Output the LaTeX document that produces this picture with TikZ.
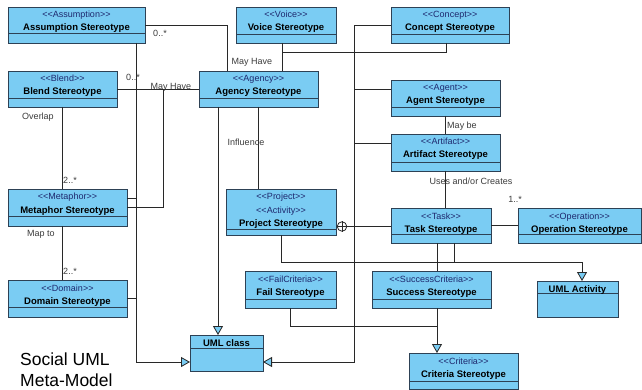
\documentclass[tikz,border=0pt]{standalone}
\usepackage{fontspec}
\setmainfont{Liberation Sans}
\usetikzlibrary{arrows.meta,calc}
\definecolor{umlblue}{RGB}{122,204,243}
\definecolor{boxedge}{RGB}{45,65,85}
\definecolor{conn}{RGB}{40,40,40}
\definecolor{stercol}{RGB}{30,40,110}
\definecolor{lblcol}{RGB}{60,60,60}
\newcommand{\lgl}{<\kern0pt<}
\newcommand{\rgr}{>\kern0pt>}
\tikzset{
  umlbox/.style={draw=boxedge, fill=umlblue, line width=0.9pt, rectangle, inner sep=0pt, outer sep=0pt, anchor=north west},
  divline/.style={draw=boxedge, line width=0.9pt},
  ster/.style={font=\fontsize{9}{10}\selectfont, text=stercol, anchor=base, inner sep=0pt},
  ctitle/.style={font=\fontsize{9.5}{11}\selectfont\bfseries, text=black, anchor=base, inner sep=0pt},
  conline/.style={draw=conn, line width=0.8pt},
  gen/.style={conline, -{Triangle[length=9pt,width=10pt,fill=umlblue]}},
  lbl/.style={font=\fontsize{9}{10}\selectfont, text=lblcol, anchor=base, inner sep=0pt},
  bigtitle/.style={font=\fontsize{17.5}{20}\selectfont, text=black, anchor=base west, inner sep=0pt},
}
\newcommand{\ubox}[8]{%
  \node[umlbox, minimum width=#4pt, minimum height=#5pt] (#1) at (#2,#3) {};
  \draw[divline] ([yshift=#6pt]#1.south west) -- ([yshift=#6pt]#1.south east);
  \node[ster] (#1s) at ([yshift=-11pt]#1.north) {#7};
  \node[ctitle] (#1t) at ([yshift=-24pt]#1.north) {#8};
}
\newcommand{\uboxone}[7]{%
  \node[umlbox, minimum width=#4pt, minimum height=#5pt] (#1) at (#2,#3) {};
  \draw[divline] ([yshift=#6pt]#1.south west) -- ([yshift=#6pt]#1.south east);
  \node[ctitle] (#1t) at ([yshift=-11pt]#1.north) {#7};
}
\begin{document}
\begin{tikzpicture}[x=1pt,y=-1pt]
\useasboundingbox (0,0) rectangle (642,390);
\fill[white] (0,0) rectangle (642,390);

\coordinate (b1) at (136,362);
\coordinate (b2) at (354,362);
\coordinate (j1) at (282,52);
\coordinate (j2) at (163,89);
\coordinate (j3) at (582,262);
\coordinate (k) at (437,326);

% boxes
\ubox{assum}{8}{7}{137}{36}{10}{\lgl Assumption\rgr}{Assumption Stereotype}
\ubox{blend}{8}{71}{109}{36}{9}{\lgl Blend\rgr}{Blend Stereotype}
\ubox{voice}{236}{7}{100}{36}{9}{\lgl Voice\rgr}{Voice Stereotype}
\ubox{agency}{199}{71}{119}{36}{9}{\lgl Agency\rgr}{Agency Stereotype}
\ubox{concept}{391}{7}{118}{36}{9}{\lgl Concept\rgr}{Concept Stereotype}
\ubox{agent}{391}{80}{109}{36}{9}{\lgl Agent\rgr}{Agent Stereotype}
\ubox{artifact}{391}{134}{109}{37}{9}{\lgl Artifact\rgr}{Artifact Stereotype}
\ubox{task}{391}{208}{100}{35}{9}{\lgl Task\rgr}{Task Stereotype}
\ubox{operation}{518}{208}{123}{35}{9}{\lgl Operation\rgr}{Operation Stereotype}
\ubox{metaphor}{8}{189}{119}{37}{10}{\lgl Metaphor\rgr}{Metaphor Stereotype}
\ubox{domain}{8}{280}{119}{37}{10}{\lgl Domain\rgr}{Domain Stereotype}
\ubox{fail}{245}{271}{91}{37}{9}{\lgl FailCriteria\rgr}{Fail Stereotype}
\ubox{success}{372}{271}{119}{37}{9}{\lgl SuccessCriteria\rgr}{Success Stereotype}
\ubox{criteria}{409}{353}{109}{36}{8}{\lgl Criteria\rgr}{Criteria Stereotype}
\uboxone{umlclass}{190}{335}{73}{36}{23}{UML class}
\uboxone{umlactivity}{537}{281}{81}{36}{24}{UML Activity}

% project box (three text lines)
\node[umlbox, minimum width=110pt, minimum height=46pt] (project) at (226,189) {};
\draw[divline] ([yshift=6pt]project.south west) -- ([yshift=6pt]project.south east);
\node[ster] (projs1) at ([yshift=-10.5pt]project.north) {\lgl Project\rgr};
\node[ster] (projs2) at ([yshift=-24.5pt]project.north) {\lgl Activity\rgr};
\node[ctitle] (projt) at ([yshift=-37.5pt]project.north) {Project Stereotype};

% generalization bus to UML class (left)
\draw[gen] ([xshift=-9pt]assum.south east) -- (b1) -- (b1 -| umlclass.west);
\draw[conline] ([yshift=9.5pt]metaphor.east) -- ([yshift=9.5pt]metaphor.east -| b1);
\draw[conline] (domain.east) -- (domain.east -| b1);

% generalization bus to UML class (right)
\draw[gen] (concept.west) -| (b2) -- (b2 -| umlclass.east);
\draw[conline] ([yshift=9pt]agent.west) -- ([yshift=9pt]agent.west -| b2);
\draw[conline] ([yshift=9.5pt]artifact.west) -- ([yshift=9.5pt]artifact.west -| b2);

% associations around Agency
\draw[conline] (assum.east) -| ([xshift=28pt]agency.north west);
\draw[conline] ([xshift=-4pt]voice.south) -- ([xshift=-4pt]voice.south |- agency.north);
\draw[conline] ([xshift=-4pt]concept.south) |- (j1);
\draw[conline] (blend.east) -- (agency.west);
\draw[conline] (metaphor.east) -| (j2);
\draw[conline] (blend.south) -- (blend.south |- metaphor.north);
\draw[conline] (blend.south |- metaphor.south) -- (blend.south |- domain.north);
\draw[gen] ([xshift=19pt]agency.south west) -- ([xshift=19pt]agency.south west |- umlclass.north);
\draw[conline] (agency.south) -- (agency.south |- project.north);

% right column
\draw[conline] (agent.south) -- (artifact.north);
\draw[conline] (artifact.south) -- (artifact.south |- task.north);
\draw[conline] (task.east) -- (operation.west);
\node[circle, draw=conn, fill=white, line width=0.8pt, minimum size=9.5pt, inner sep=0pt] (cp) at (342,226.5) {};
\draw[conline] (cp.north) -- (cp.south) (cp.west) -- (cp.east);
\draw[conline] (cp.east) -- (cp -| task.west);

% activities and criteria
\draw[gen] (project.south) |- (j3) -- (j3 |- umlactivity.north);
\draw[conline] ([xshift=13pt]task.south) -- ([xshift=13pt]task.south |- j3);
\draw[conline] ([xshift=-4pt]task.south) -- ([xshift=-4pt]task.south |- success.north);
\draw[gen] (k |- success.south) -- (k |- criteria.north);
\draw[conline] (fail.south) |- (k);

% labels
\node[lbl] (l1) at (160,37) {0..*};
\node[lbl] (l2) at (133,81) {0..*};
\node[lbl] (l3) at (171,90) {May Have};
\node[lbl] (l4) at (252,65) {May Have};
\node[lbl] (l5) at (38,120) {Overlap};
\node[lbl] (l6) at (70,184) {2..*};
\node[lbl] (l7) at (41,236) {Map to};
\node[lbl] (l8) at (70,274) {2..*};
\node[lbl] (l9) at (246,146) {Influence};
\node[lbl] (l10) at (462,129) {May be};
\node[lbl] (l11) at (471,185) {Uses and/or Creates};
\node[lbl] (l12) at (515,202) {1..*};

% title
\node[bigtitle] (ttl1) at (20,365) {Social UML};
\node[bigtitle] (ttl2) at (20,386) {Meta-Model};
\end{tikzpicture}
\end{document}
